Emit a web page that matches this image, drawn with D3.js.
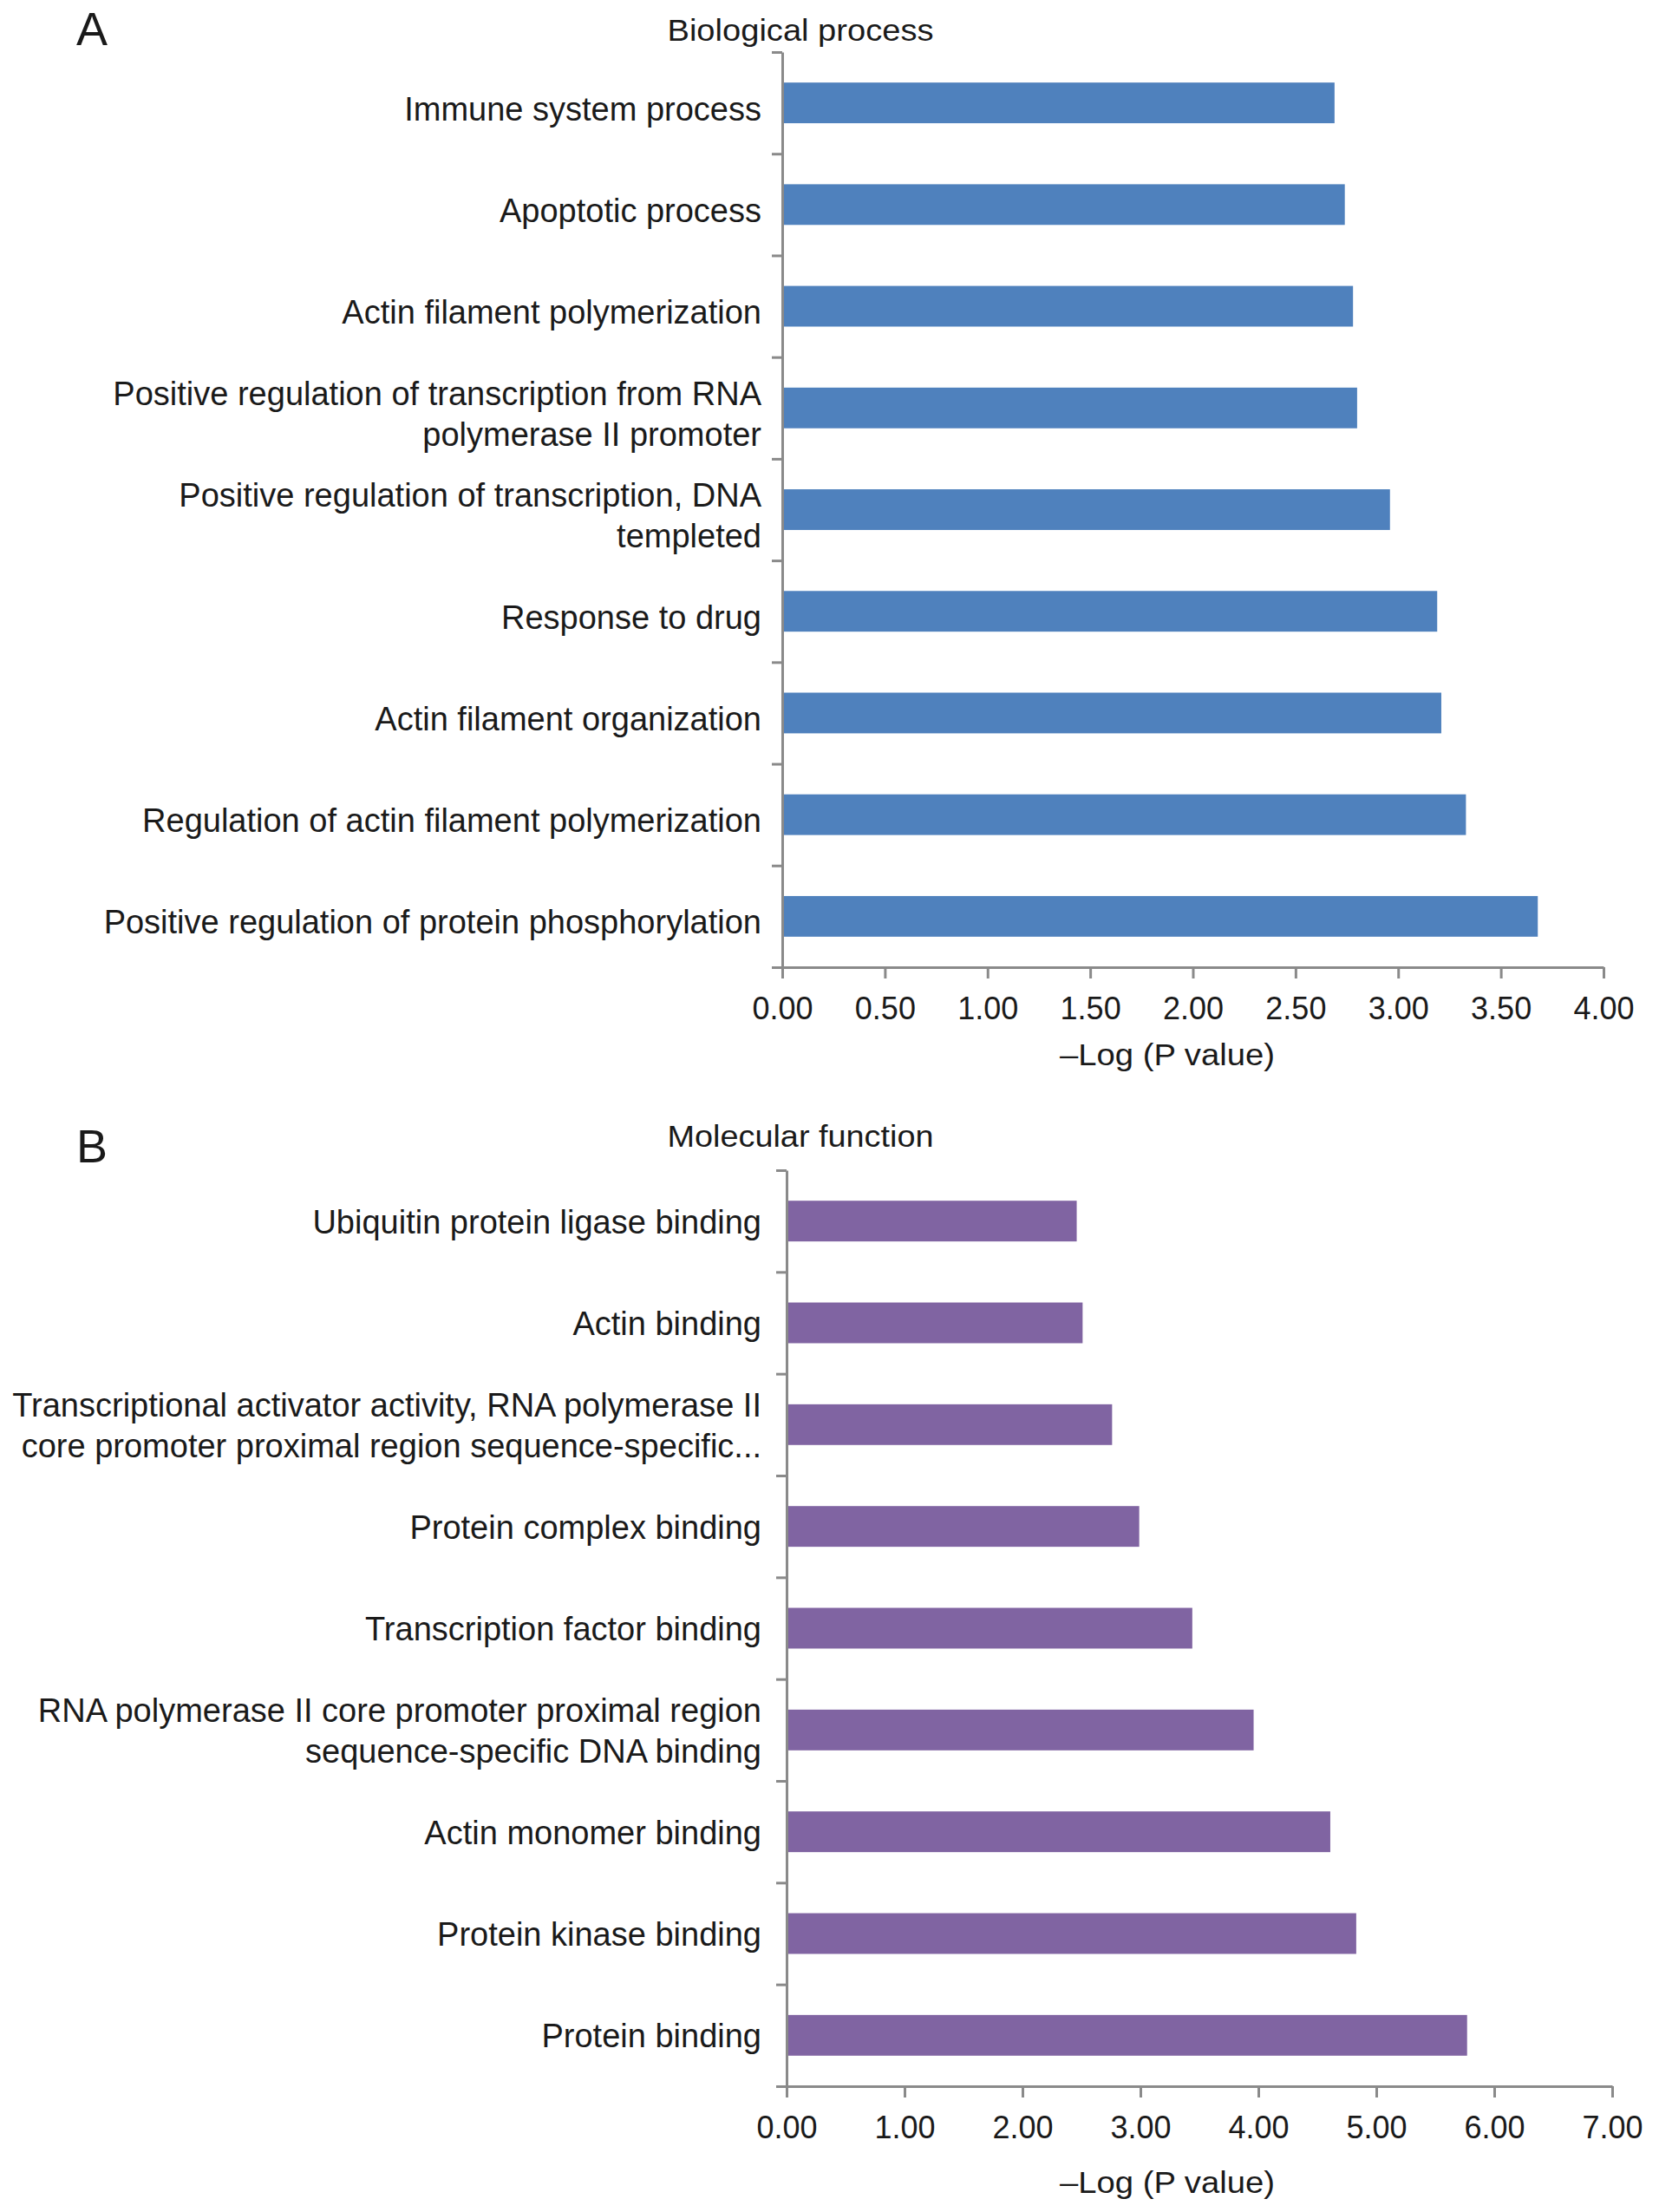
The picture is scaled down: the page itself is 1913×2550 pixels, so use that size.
<html>

<head>
    <script src="https://cdn.jsdelivr.net/npm/d3@7"></script>
    <style>
        body { margin: 0; background: white; }
        text { font-family: "Liberation Sans", Arial, Helvetica, sans-serif; fill: #1a1a1a; }
    </style>
</head>

<body>
    <script type="text/javascript">
        var width = 1913;
        var height = 2550;

        // Panel A - biological process (top to bottom as drawn)
        var bpTerms = [
            ["Immune system process"],
            ["Apoptotic process"],
            ["Actin filament polymerization"],
            ["Positive regulation of transcription from RNA", "polymerase II promoter"],
            ["Positive regulation of transcription, DNA", "templeted"],
            ["Response to drug"],
            ["Actin filament organization"],
            ["Regulation of actin filament polymerization"],
            ["Positive regulation of protein phosphorylation"]
        ];
        var bpValues = [2.69, 2.74, 2.78, 2.80, 2.96, 3.19, 3.21, 3.33, 3.68];
        var bpTicks = [0, 0.5, 1, 1.5, 2, 2.5, 3, 3.5, 4];

        // Panel B - molecular function
        var mfTerms = [
            ["Ubiquitin protein ligase binding"],
            ["Actin binding"],
            ["Transcriptional activator activity, RNA polymerase II", "core promoter proximal region sequence-specific..."],
            ["Protein complex binding"],
            ["Transcription factor binding"],
            ["RNA polymerase II core promoter proximal region", "sequence-specific DNA binding"],
            ["Actin monomer binding"],
            ["Protein kinase binding"],
            ["Protein binding"]
        ];
        var mfValues = [2.46, 2.51, 2.76, 2.99, 3.44, 3.96, 4.61, 4.83, 5.77];
        var mfTicks = [0, 1, 2, 3, 4, 5, 6, 7];

        const svg = d3.select("body").append("svg")
            .attr("width", width)
            .attr("height", height);

        function drawPanel(opt) {
            var g = svg.append("g");
            var n = opt.terms.length;
            var ids = d3.range(n);

            var xScale = d3.scaleLinear([0, d3.max(opt.ticks)], [opt.left, opt.right]);
            var yScale = d3.scaleBand(ids, [opt.top, opt.bottom])
                .paddingInner(0.6)
                .paddingOuter(0.3);
            // boundaries between categories carry the tick marks
            var yEdges = d3.scaleLinear([0, n], [opt.top, opt.bottom]);

            // bars
            g.selectAll("rect")
                .data(ids)
                .join("rect")
                    .attr("x", xScale(0))
                    .attr("y", i => yScale(i))
                    .attr("width", i => xScale(opt.values[i]) - xScale(0))
                    .attr("height", yScale.bandwidth())
                    .attr("fill", opt.color);

            // y axis (ticks at band edges, no labels)
            var yAxis = d3.axisLeft(yEdges)
                .tickValues(d3.range(n + 1))
                .tickFormat("")
                .tickSize(12)
                .tickSizeOuter(0);
            g.append("g")
                .attr("transform", `translate(${xScale(0)}, 0)`)
                .call(yAxis);

            // x axis
            var xAxis = d3.axisBottom(xScale)
                .tickValues(opt.ticks)
                .tickFormat(d3.format(".2f"))
                .tickSize(13)
                .tickSizeOuter(0)
                .tickPadding(21);
            g.append("g")
                .attr("transform", `translate(0, ${opt.bottom})`)
                .call(xAxis)
                .selectAll("text")
                    .style("font-size", "36px")
                    .style("font-family", "'Liberation Sans', Arial, sans-serif")
                    .attr("fill", "#1a1a1a");

            g.selectAll(".domain, .tick line")
                .attr("stroke", "#8a8a8a")
                .attr("stroke-width", 3);

            // category labels
            var labels = g.append("g").selectAll("text")
                .data(ids)
                .join("text")
                    .attr("text-anchor", "end")
                    .style("font-size", "38px")
                    .attr("y", i => yScale(i) + yScale.bandwidth() / 2 + opt.labelShift - (opt.terms[i].length - 1) * 47 / 2);

            labels.selectAll("tspan")
                .data(i => opt.terms[i])
                .join("tspan")
                    .attr("x", opt.labelX)
                    .attr("dy", (d, j) => j === 0 ? 0 : 47)
                    .text(d => d);

            // panel title
            g.append("text")
                .attr("x", 923)
                .attr("y", opt.titleY)
                .attr("text-anchor", "middle")
                .attr("textLength", 307)
                .attr("lengthAdjust", "spacingAndGlyphs")
                .style("font-size", "35px")
                .text(opt.title);

            // x axis title
            g.append("text")
                .attr("x", 1346)
                .attr("y", opt.bottom + opt.xTitleGap)
                .attr("text-anchor", "middle")
                .attr("textLength", 248)
                .attr("lengthAdjust", "spacingAndGlyphs")
                .style("font-size", "35px")
                .text("\u2013Log (P value)");

            // panel letter
            g.append("text")
                .attr("x", 88)
                .attr("y", opt.letterY)
                .style("font-size", "54px")
                .text(opt.letter);
        }

        drawPanel({
            terms: bpTerms, values: bpValues, ticks: bpTicks,
            left: 902, right: 1849, top: 60, bottom: 1115,
            color: "#4f81bd", labelX: 878, labelShift: 20,
            title: "Biological process", titleY: 47, xTitleGap: 113,
            letter: "A", letterY: 52
        });

        drawPanel({
            terms: mfTerms, values: mfValues, ticks: mfTicks,
            left: 907, right: 1859, top: 1349, bottom: 2405,
            color: "#8064a2", labelX: 878, labelShift: 14,
            title: "Molecular function", titleY: 1322, xTitleGap: 123,
            letter: "B", letterY: 1340
        });
    </script>
</body>

</html>
